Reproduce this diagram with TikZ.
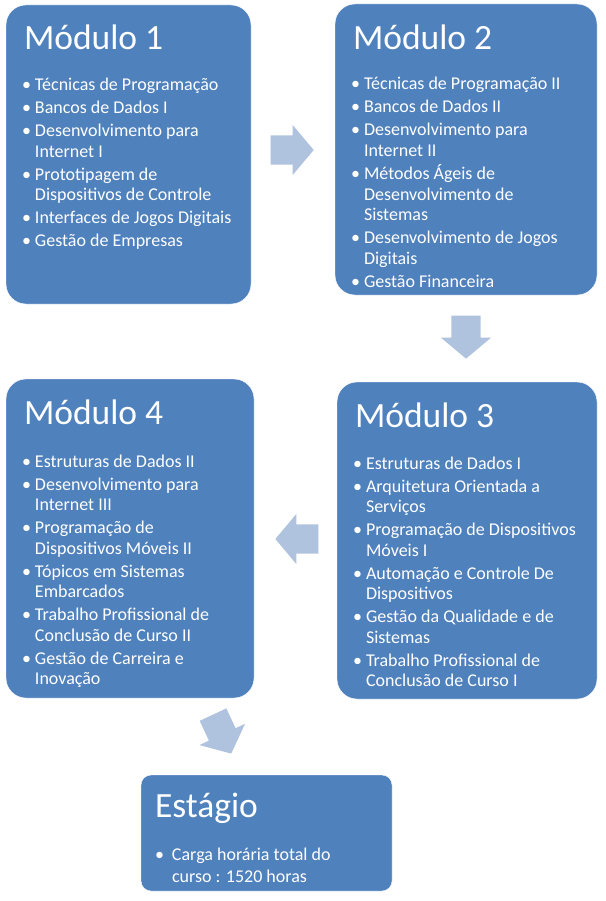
\documentclass[tikz,border=0pt]{standalone}
\usepackage{fontspec}
\setmainfont{Carlito}
\usepackage{xcolor}
\usepackage{tikz}
\usetikzlibrary{shapes.arrows,positioning,calc}

\definecolor{modfill}{HTML}{4F81BD}
\definecolor{arrfill}{HTML}{AFC2DE}
% bullet item and its continuation line
\newcommand{\bi}[1]{\makebox[13pt][l]{\textbullet}#1}
\newcommand{\bc}[1]{\hspace*{13pt}#1}

\begin{document}
\begin{tikzpicture}[
    x=1pt, y=-1pt,
    modbox/.style={rectangle, draw=white, fill=modfill, rounded corners=20pt, inner sep=0pt},
    ttl/.style={anchor=base west, inner sep=0pt, text=white, font=\fontsize{35.5}{40}\selectfont},
    lst/.style={anchor=north west, inner sep=0pt, text=white, align=left, font=\fontsize{18}{20.5}\selectfont},
    blockarr/.style={single arrow, fill=arrfill, draw=none, inner xsep=0pt, inner ysep=14.5pt, minimum height=43pt, single arrow head extend=10.5pt, single arrow tip angle=100}
]
    \useasboundingbox (0,0) rectangle (605,901);

    % boxes
    \node [modbox, minimum width=245pt, minimum height=299pt] (m1) at (128.5,154.5) {};
    \node [modbox, minimum width=262pt, minimum height=291pt] (m2) at (466,149.5) {};
    \node [modbox, minimum width=260pt, minimum height=317pt] (m3) at (467,540.5) {};
    \node [modbox, minimum width=248pt, minimum height=319pt] (m4) at (130,538.5) {};
    \node [modbox, rounded corners=10pt, minimum width=251pt, minimum height=116pt] (est) at (266.5,833) {};

    % titles
    \node [ttl] (t1) at ([shift={(18,45)}]m1.north west) {Módulo 1};
    \node [ttl] (t2) at ([shift={(18,46)}]m2.north west) {Módulo 2};
    \node [ttl] (t3) at ([shift={(18,46)}]m3.north west) {Módulo 3};
    \node [ttl] (t4) at ([shift={(18,46)}]m4.north west) {Módulo 4};
    \node [ttl] (t5) at ([shift={(14,43)}]est.north west) {Estágio};

    % lists
    \node [lst] (l1) at ([shift={(16,73)}]m1.north west) {\rule{0pt}{13pt}\bi{Técnicas de Programação}\\[2.5pt]
        \bi{Bancos de Dados I}\\[2.5pt]
        \bi{Desenvolvimento para}\\ \bc{Internet I}\\[2.5pt]
        \bi{Prototipagem de}\\ \bc{Dispositivos de Controle}\\[2.5pt]
        \bi{Interfaces de Jogos Digitais}\\[2.5pt]
        \bi{Gestão de Empresas}};
    \node [lst] (l2) at ([shift={(16,73)}]m2.north west) {\rule{0pt}{13pt}\bi{Técnicas de Programação II}\\[2.5pt]
        \bi{Bancos de Dados II}\\[2.5pt]
        \bi{Desenvolvimento para}\\ \bc{Internet II}\\[2.5pt]
        \bi{Métodos Ágeis de}\\ \bc{Desenvolvimento de}\\ \bc{Sistemas}\\[2.5pt]
        \bi{Desenvolvimento de Jogos}\\ \bc{Digitais}\\[2.5pt]
        \bi{Gestão Financeira}};
    \node [lst] (l3) at ([shift={(16,74)}]m3.north west) {\rule{0pt}{13pt}\bi{Estruturas de Dados I}\\[2.5pt]
        \bi{Arquitetura Orientada a}\\ \bc{Serviços}\\[2.5pt]
        \bi{Programação de Dispositivos}\\ \bc{Móveis I}\\[2.5pt]
        \bi{Automação e Controle De}\\ \bc{Dispositivos}\\[2.5pt]
        \bi{Gestão da Qualidade e de}\\ \bc{Sistemas}\\[2.5pt]
        \bi{Trabalho Profissional de}\\ \bc{Conclusão de Curso I}};
    \node [lst] (l4) at ([shift={(16,75)}]m4.north west) {\rule{0pt}{13pt}\bi{Estruturas de Dados II}\\[2.5pt]
        \bi{Desenvolvimento para}\\ \bc{Internet III}\\[2.5pt]
        \bi{Programação de}\\ \bc{Dispositivos Móveis II}\\[2.5pt]
        \bi{Tópicos em Sistemas}\\ \bc{Embarcados}\\[2.5pt]
        \bi{Trabalho Profissional de}\\ \bc{Conclusão de Curso II}\\[2.5pt]
        \bi{Gestão de Carreira e}\\ \bc{Inovação}};
    \node [lst, font=\fontsize{18}{22}\selectfont] (l5) at ([shift={(14,72)}]est.north west) {\rule{0pt}{13pt}\makebox[17pt][l]{\textbullet}Carga horária total do\\
        \hspace*{17pt}curso : 1520 horas};

    % block arrows
    \node [blockarr] (a12) at (286,150) {};
    \node [blockarr, rotate=-90] (a23) at (466,331) {};
    \node [blockarr, rotate=180] (a34) at (303,539) {};
    \node [blockarr, rotate=-65] (a45) at (219.5,728.5) {};
\end{tikzpicture}
\end{document}
